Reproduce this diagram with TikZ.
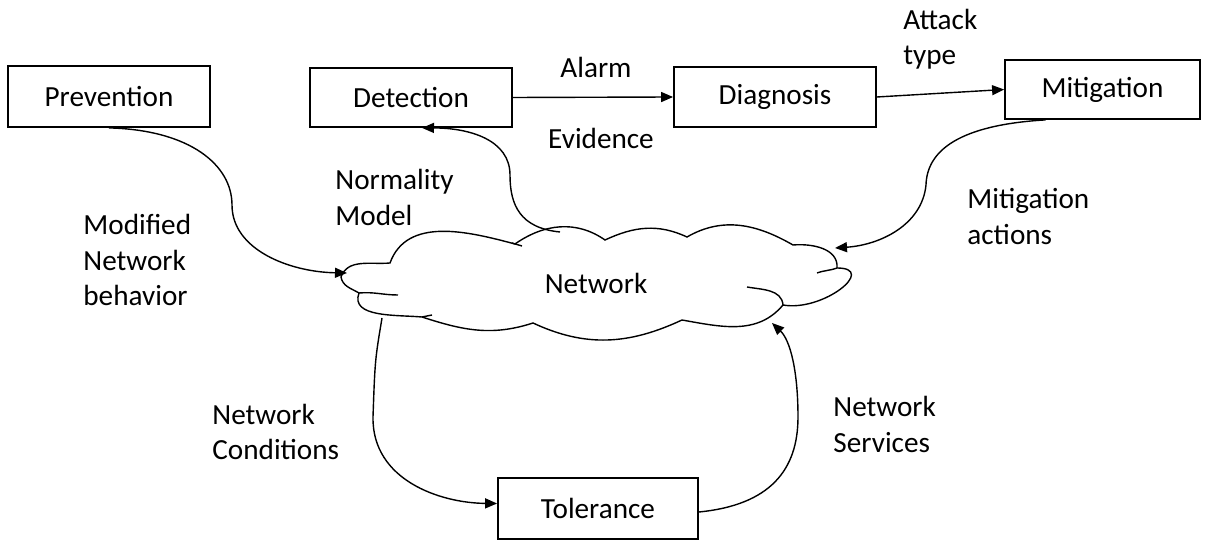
\documentclass[tikz,border=0pt]{standalone}
\usepackage{fontspec}
\setmainfont{Carlito}
\usetikzlibrary{arrows.meta}

\tikzset{
  block/.style={draw, line width=0.9pt, minimum width=101pt, minimum height=30pt, inner sep=0pt},
  flow/.style={-{Triangle[length=6pt,width=5pt]}, line width=0.7pt},
  lbl/.style={align=left, anchor=west, inner sep=0pt}
}

\begin{document}
\begin{tikzpicture}[x=0.5pt, y=0.5pt, font=\fontsize{14.6}{17.75}\selectfont]
\useasboundingbox (0,0) rectangle (1207,541);
% draw the boxes
\node[block, minimum height=30.5pt] (prev) at (109,444.5) {Prevention};
\node[block, minimum height=29.5pt] (det) at (411,443.5) {Detection};
\node[block] (diag) at (775,444) {Diagnosis};
\node[block, minimum width=97.5pt, minimum height=29.5pt] (mit) at (1102.5,451.5) {Mitigation};
\node[block, minimum width=100pt, minimum height=30.5pt] (tol) at (598,32.5) {Tolerance};

% draw the cloud
\draw[line width=0.7pt] (341,264) to[out=70,in=185] (390,278)
  to[out=70,in=165] (515,297) to[out=35,in=145] (605,301)
  to[out=25,in=155] (687,304) to[out=30,in=150] (793,296)
  to[out=5,in=85] (837,273) to[out=0,in=-10,looseness=1.6] (783,236)
  to[out=-130,in=-10] (682,221) to[out=-155,in=-25] (533,218)
  to[out=-162,in=-18] (422,224) to[out=175,in=-110] (359,248)
  to[out=150,in=-80] cycle;
% inner strokes of the cloud
\draw[line width=0.7pt] (359,248) to[out=5,in=180] (398,246);
\draw[line width=0.7pt] (512,298) -- (522,295);
\draw[line width=0.7pt] (817,268) to[out=20,in=200] (837,273);
\draw[line width=0.7pt] (747,254) to[out=-10,in=95] (783,236);
\draw[line width=0.7pt] (422,224) -- (432,226);
\node (net) at (596,258) {Network};

% draw straight arrows
\draw[flow] (det.east) -- (diag.west);
\draw[flow] (diag.east) -- (mit.west);

% draw curved arrows
\draw[flow] (prev.south) .. controls (190,411) and (232,376) .. (232,336)
  .. controls (232,291) and (290,269) .. ([shift={(-249,10)}]net.center);
\draw[flow] ([shift={(-36,51)}]net.center) .. controls (520,313) and (510,336) .. (510,366)
  .. controls (510,401) and (470,413) .. ([shift={(11,0)}]det.south);
\draw[flow] ([shift={(-57,0)}]mit.south) .. controls (960,416) and (927,391) .. (926,356)
  .. controls (922,316) and (880,296) .. ([shift={(239,35)}]net.center);
\draw[flow] ([shift={(-214,-35)}]net.center) .. controls (375,181) .. (373,124)
  .. controls (372,61) and (440,38) .. ([shift={(0,5)}]tol.west);
\draw[flow] ([shift={(0,-3.5)}]tol.east) .. controls (770,36) and (798,71) .. (798,124)
  .. controls (798,171) and (790,201) .. ([shift={(176,-40)}]net.center);

% draw labels
\node (alarm) at (596,474) {Alarm};
\node (evid) at (601,403) {Evidence};
\node[lbl] (attack) at (903,502) {Attack\\type};
\node[lbl] (normal) at (335,343.5) {Normality\\Model};
\node[lbl] (modif) at (83,281) {Modified\\Network\\behavior};
\node[lbl] (actions) at (967,324.5) {Mitigation\\actions};
\node[lbl] (cond) at (212,109) {Network\\Conditions};
\node[lbl] (serv) at (833,116.5) {Network\\Services};
\end{tikzpicture}
\end{document}
